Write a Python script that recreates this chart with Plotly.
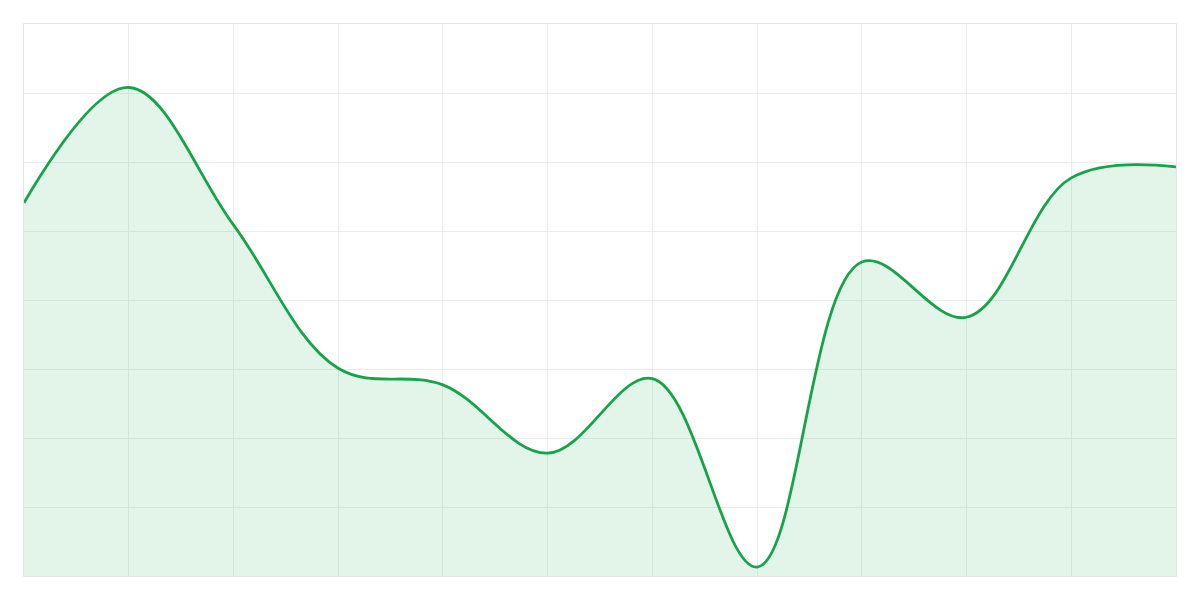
import plotly.graph_objects as go

x_vals = list(range(12))
y_vals = [5.41, 7.08, 5.09, 3.01, 2.77, 1.78, 2.86, 0.13, 4.55, 3.75, 5.77, 5.93]

fig = go.Figure()
fig.add_trace(go.Scatter(
    x=x_vals, y=y_vals, mode="lines",
    line=dict(color="#16a34a", width=2.8, shape="spline", smoothing=1.05),
    fill="tozeroy", fillcolor="rgba(22,163,74,0.12)",
    hoverinfo="skip", showlegend=False,
))

axis_common = dict(
    showgrid=True, gridcolor="#ececec", gridwidth=1,
    showticklabels=False, ticks="", zeroline=False,
    showline=True, linecolor="#e6e6e6", linewidth=1, mirror=True,
)
fig.update_layout(
    width=1184, height=584,
    margin=dict(l=16, r=16, t=16, b=16),
    paper_bgcolor="white", plot_bgcolor="white",
    xaxis=dict(range=[0, 11], dtick=1, **axis_common),
    yaxis=dict(range=[0, 8], dtick=1, **axis_common),
)
fig.write_html("out.html")
